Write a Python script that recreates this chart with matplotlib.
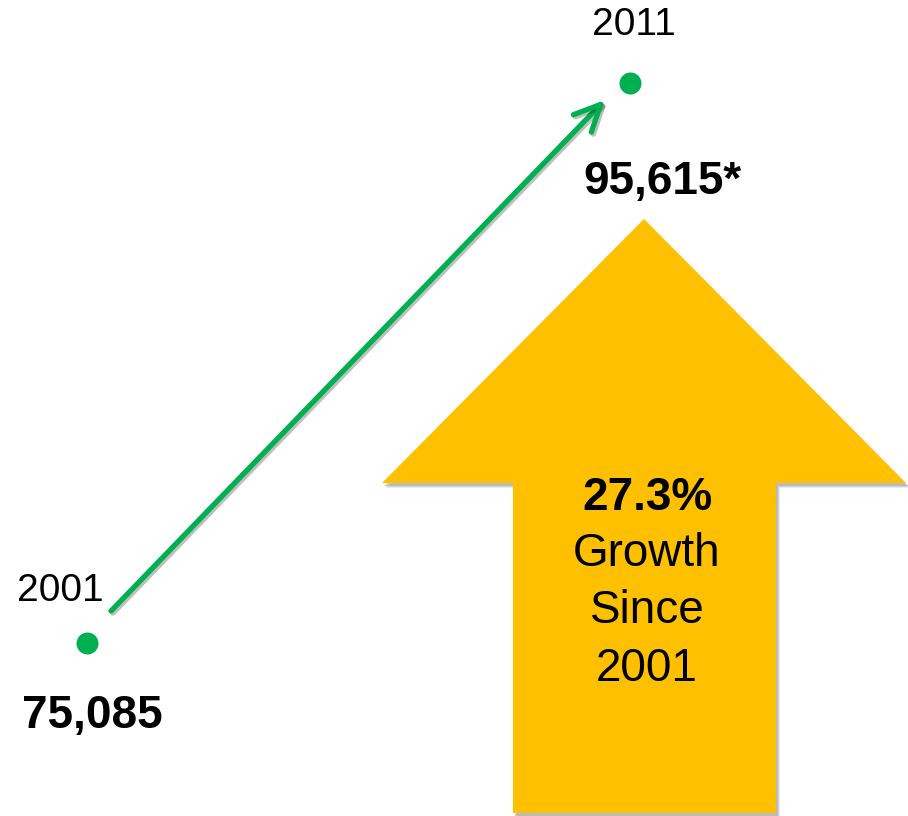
import matplotlib.pyplot as plt
from matplotlib.patches import Polygon
import matplotlib.patheffects as pe

# data
years = [2001, 2011]
population = [75085, 95615]
value_labels = ['75,085', '95,615*']
growth_lines = ['27.3%', 'Growth', 'Since', '2001']

W, H = 908, 816
green = '#00B050'
yellow = '#FFC000'

plt.rcParams['font.family'] = ['Liberation Sans', 'DejaVu Sans']


def px(x, y):
    # pixel position (from top-left) -> axes fraction
    return x / W, 1 - y / H


fig = plt.figure(figsize=(W / 100, H / 100), dpi=100)
ax = fig.add_axes([0, 0, 1, 1])
ax.set_xlim(1999.4, 2016.12)
ax.set_ylim(68743, 98658)
ax.axis('off')

# big yellow arrow with soft shadow
arrow_px = [(644, 219), (906, 483), (776, 483), (776, 813),
            (513, 813), (513, 483), (382, 483)]
for off, a in [(5, 0.15), (4, 0.2), (3, 0.3)]:
    ax.add_patch(Polygon([px(x + off - 1, y + off) for x, y in arrow_px], closed=True,
                         transform=ax.transAxes, fc='#7f7f7f', ec='none', alpha=a))
ax.add_patch(Polygon([px(x, y) for x, y in arrow_px], closed=True,
                     transform=ax.transAxes, fc=yellow, ec='none'))

ys = [498, 554, 611, 669]
for i, (txt, y) in enumerate(zip(growth_lines, ys)):
    ax.text(*px(647, y), txt, transform=ax.transAxes, ha='center', va='center',
            fontsize=33, fontweight='bold' if i == 0 else 'normal', color='black')

# green trend arrow
ax.annotate('', xy=px(605, 100), xytext=px(111, 611),
            xycoords='axes fraction', textcoords='axes fraction',
            arrowprops=dict(arrowstyle='->, head_length=0.95, head_width=0.45',
                            lw=3.8, color=green, shrinkA=0, shrinkB=0,
                            mutation_scale=20, capstyle='round',
                            path_effects=[pe.SimpleLineShadow(offset=(1.5, -1.5), alpha=0.25),
                                          pe.Normal()]))

ax.scatter(years, population, s=250, color=green, zorder=3, linewidths=0)

year_offsets = [(-27, 52), (4, 58)]
value_offsets = [(5, -73), (32, -99)]
for yr, val, lab, yo, vo in zip(years, population, value_labels, year_offsets, value_offsets):
    ax.annotate(str(yr), (yr, val), xytext=yo, textcoords='offset pixels',
                ha='center', va='center', fontsize=28)
    ax.annotate(lab, (yr, val), xytext=vo, textcoords='offset pixels',
                ha='center', va='center', fontsize=33, fontweight='bold')

fig.savefig('out.png', dpi=100)
